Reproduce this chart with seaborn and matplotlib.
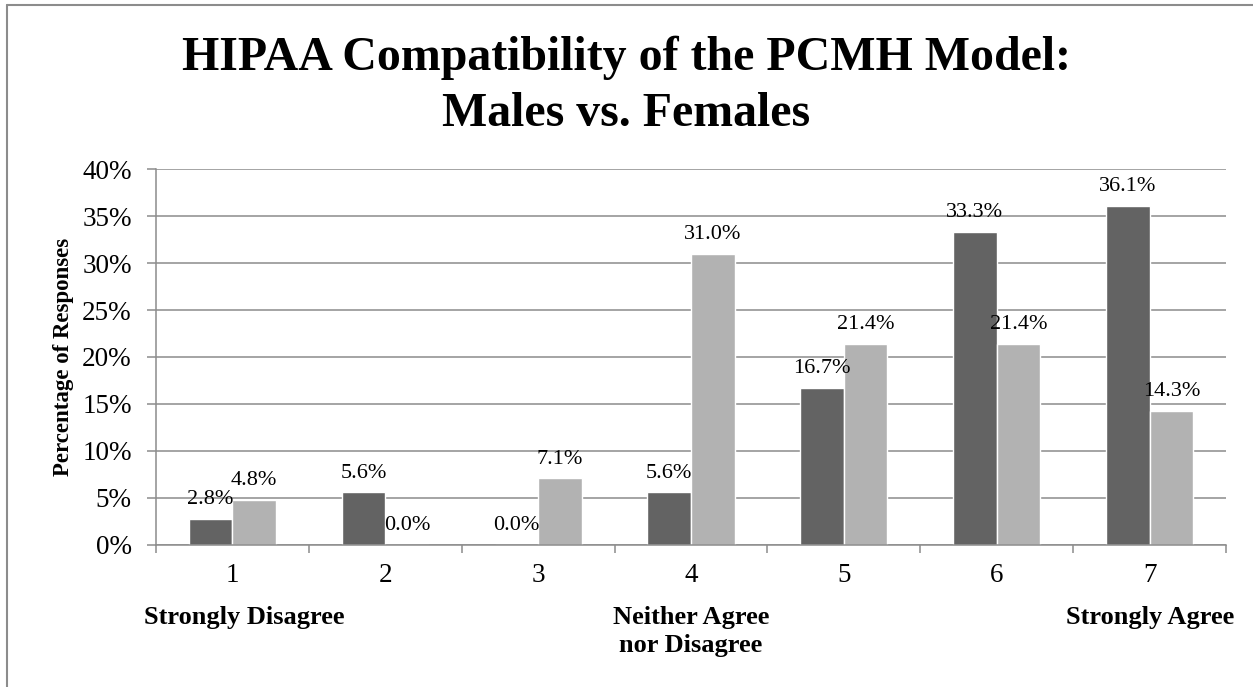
import pandas as pd
import matplotlib.pyplot as plt
import matplotlib.ticker as mticker
from matplotlib.lines import Line2D
import seaborn as sns

# данные с картинки (в процентах)
categories = ["1", "2", "3", "4", "5", "6", "7"]
males = [2.8, 5.6, 0.0, 5.6, 16.7, 33.3, 36.1]
females = [4.8, 0.0, 7.1, 31.0, 21.4, 21.4, 14.3]
groups = ["Males", "Females"]

# подписи шкалы под осью X
note_cats = ["1", "4", "7"]
note_texts = ["Strongly Disagree", "Neither Agree\nnor Disagree", "Strongly Agree"]

title_lines = ["HIPAA Compatibility of the PCMH Model:", "Males vs. Females"]

df = pd.DataFrame({
    "Rating": categories * 2,
    "Percent": males + females,
    "Gender": [groups[0]] * len(males) + [groups[1]] * len(females),
})

sns.set_theme(style="white")
plt.rcParams["font.family"] = ["Liberation Serif", "DejaVu Serif"]
plt.rcParams["text.color"] = "black"
plt.rcParams["axes.labelcolor"] = "black"

grid_col = "#8c8c8c"
fig = plt.figure(figsize=(12.53, 6.87), dpi=100)
ax = fig.add_axes([0.1245, 0.2067, 0.854, 0.5473])

sns.barplot(
    data=df, x="Rating", y="Percent", hue="Gender", order=categories,
    hue_order=groups, palette=["#636363", "#b2b2b2"], width=0.57, gap=0,
    saturation=1, legend=False, ax=ax,
)

for cont in ax.containers:
    ax.bar_label(cont, labels=[f"{v:.1f}%" for v in cont.datavalues],
                 padding=7, fontsize=16, color="black")

ax.set_ylim(0, 40)
ax.set_xlim(-0.5, len(categories) - 0.5)
ax.yaxis.set_major_locator(mticker.MultipleLocator(5))
ax.yaxis.set_major_formatter(mticker.FuncFormatter(lambda v, p: f"{v:.0f}%"))
ax.grid(axis="y", color=grid_col, linewidth=1.1)
ax.set_axisbelow(True)

# деления между категориями, подписи по центру
ax.set_xticks(range(len(categories)))
ax.set_xticklabels(categories)
ax.set_xticks([i - 0.5 for i in range(len(categories) + 1)], minor=True)
ax.tick_params(axis="x", which="major", length=0, pad=13, labelsize=19.5, labelcolor="black")
ax.tick_params(axis="x", which="minor", length=6, width=1.1, color=grid_col, bottom=True)
ax.tick_params(axis="y", length=6.5, width=1.1, color=grid_col, left=True,
               pad=11, labelsize=19.5, labelcolor="black")

for side in ["top", "right"]:
    ax.spines[side].set_visible(False)
for side in ["left", "bottom"]:
    ax.spines[side].set_color(grid_col)
    ax.spines[side].set_linewidth(1.1)

ax.set_xlabel("")
ax.set_ylabel("Percentage of Responses", fontsize=16.5, fontweight="bold", labelpad=6)

for cat, txt in zip(note_cats, note_texts):
    i = categories.index(cat)
    dx = 0.08 if i == 0 else 0
    ax.annotate(txt, xy=(i + dx, 0), xycoords=("data", "axes fraction"),
                xytext=(0, -44), textcoords="offset points", ha="center", va="top",
                fontsize=19, fontweight="bold", linespacing=1.26)

# заголовок двумя строками, по базовой линии
for line, y in zip(title_lines, [0.898, 0.8166]):
    fig.text(0.5, y, line, ha="center", va="baseline",
             fontsize=34.5, fontweight="bold")

# рамка слева и сверху, как в исходнике
fig.add_artist(Line2D([0.0052, 0.0052], [0, 0.9927], transform=fig.transFigure,
                      color=grid_col, linewidth=1.5))
fig.add_artist(Line2D([0.0052, 1], [0.9927, 0.9927], transform=fig.transFigure,
                      color=grid_col, linewidth=1.5))

fig.savefig("out.png", dpi=100)
